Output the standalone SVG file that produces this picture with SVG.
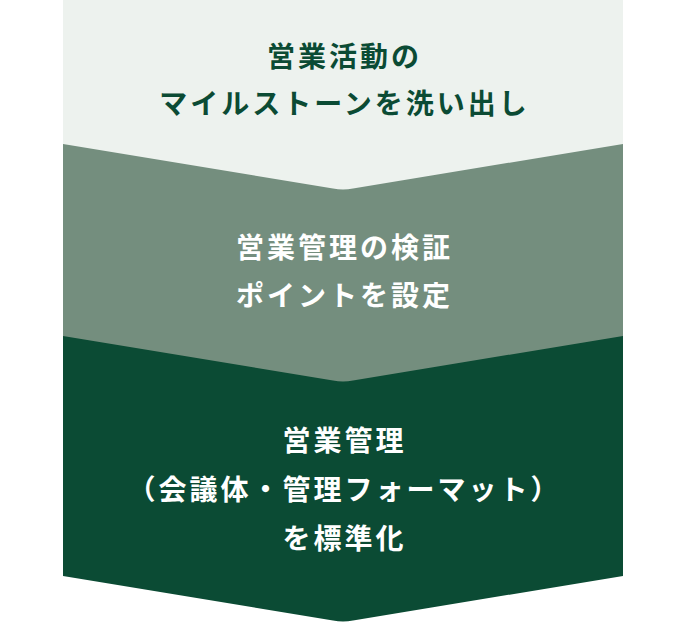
<svg xmlns="http://www.w3.org/2000/svg" width="686" height="624" viewBox="0 0 686 624">
  <style>
    .t { font-family: "Noto Sans CJK JP", "Noto Sans", sans-serif; font-weight: 700; font-size: 28px; letter-spacing: 3px; text-anchor: middle; }
    .dk { fill: #0b4b34; }
    .wh { fill: #ffffff; }
  </style>
  <rect width="686" height="624" fill="#ffffff"/>
  <g id="step3">
    <path d="M63,320 H623 V576 L353,620.4 Q343,622.5 333,620.4 L63,576 Z" fill="#0b4b34"/>
    <text class="t wh" x="344.5" y="451">営業管理</text>
    <text class="t wh" x="344.5" y="500">（会議体・管理フォーマット）</text>
    <text class="t wh" x="344.5" y="549">を標準化</text>
  </g>
  <g id="step2">
    <path d="M63,130 H623 V336 L353,380.4 Q343,382.5 333,380.4 L63,336 Z" fill="#748e7e"/>
    <text class="t wh" x="344.5" y="258">営業管理の検証</text>
    <text class="t wh" x="344.5" y="306">ポイントを設定</text>
  </g>
  <g id="step1">
    <path d="M63,0 H623 V144 L353,188.4 Q343,190.5 333,188.4 L63,144 Z" fill="#edf2ee"/>
    <text class="t dk" x="344.5" y="67">営業活動の</text>
    <text class="t dk" x="344.5" y="114">マイルストーンを洗い出し</text>
  </g>
  <g id="connectors"></g>
</svg>
